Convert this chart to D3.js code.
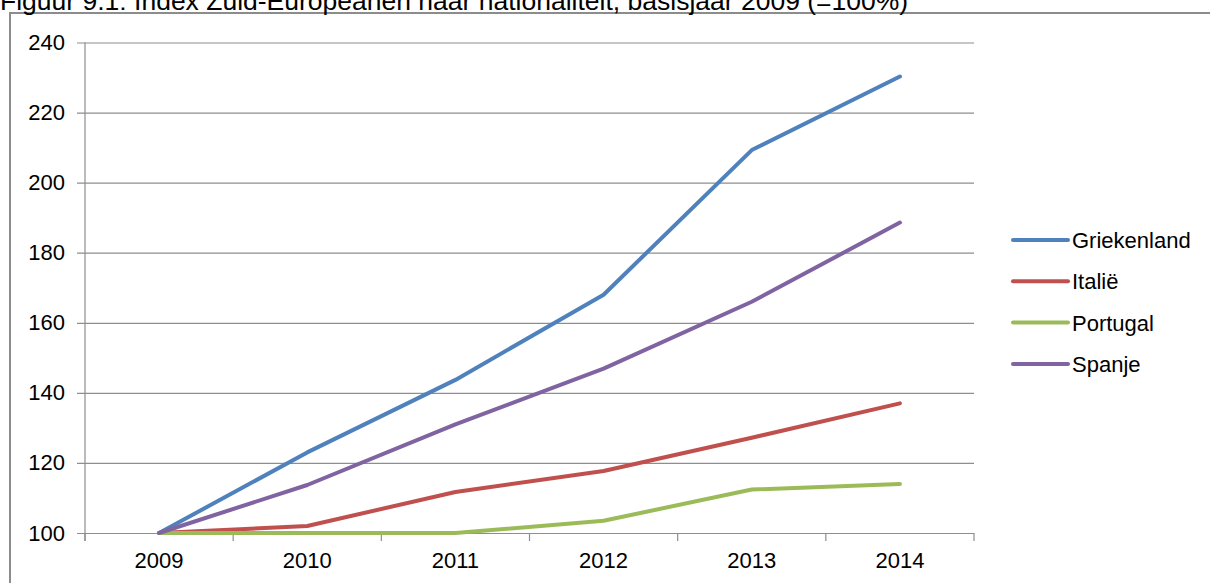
<!DOCTYPE html>
<html>
<head>
<meta charset="utf-8">
<script src="https://cdn.jsdelivr.net/npm/d3@7"></script>
<style>
  html, body { margin: 0; padding: 0; background: #fff; }
  svg { display: block; }
  text { font-family: "Liberation Sans", Arial, sans-serif; fill: #000; }
</style>
</head>
<body>
<svg id="chart" width="1210" height="583"></svg>
<script>
const title = "Figuur 9.1: Index Zuid-Europeanen naar nationaliteit, basisjaar 2009 (=100%)";
const years = ["2009", "2010", "2011", "2012", "2013", "2014"];
const yTicks = [100, 120, 140, 160, 180, 200, 220, 240];
const seriesNames = ["Griekenland", "Italië", "Portugal", "Spanje"];
const griekenland = [100, 123, 143.7, 168, 209.3, 230.3];
const italie = [100, 102, 111.7, 117.7, 127.2, 137];
const portugal = [100, 100, 100, 103.5, 112.4, 114];
const spanje = [100, 113.7, 131, 146.9, 166, 188.6];
const seriesValues = [griekenland, italie, portugal, spanje];
const colors = ["#4F81BD", "#C0504D", "#9BBB59", "#8064A2"];

const svg = d3.select("#chart");
const pLeft = 85, pRight = 974, pTop = 42.5, pBottom = 533;
const fs = 22;

// outer frame
svg.append("rect")
  .attr("x", 10).attr("y", 13).attr("width", 1210).attr("height", 600)
  .attr("fill", "none").attr("stroke", "#8c8c8c").attr("stroke-width", 2);

// title (partially cut at top edge, as in the reference)
svg.append("text").attr("x", 0).attr("y", 10)
  .attr("font-size", 26.5).text(title);

const x = d3.scaleBand().domain(years).range([pLeft, pRight]).padding(0);
const y = d3.scaleLinear().domain([100, 240]).range([pBottom, pTop]);
const cx = d => x(d) + x.bandwidth() / 2;

// gridlines + y labels
const yAxis = d3.axisLeft(y).tickValues(yTicks).tickSize(8).tickPadding(12).tickFormat(d3.format("d"));
const gy = svg.append("g").attr("transform", `translate(${pLeft},0)`).call(yAxis);
gy.select(".domain").remove();
gy.selectAll(".tick line").attr("x2", pRight - pLeft).attr("x1", -8).attr("stroke", "#8e8e8e").attr("stroke-width", 1.2);
gy.selectAll(".tick text").attr("font-size", fs).attr("font-family", "Liberation Sans, Arial, sans-serif").attr("fill", "#000");

// left axis line
svg.append("line").attr("x1", pLeft).attr("x2", pLeft).attr("y1", pTop).attr("y2", pBottom + 8)
  .attr("stroke", "#8e8e8e").attr("stroke-width", 1.2);

// bottom ticks at band boundaries
const boundaries = years.map(d => x(d)).concat([x(years[years.length - 1]) + x.bandwidth()]);
svg.append("g").selectAll("line").data(boundaries).join("line")
  .attr("x1", d => d).attr("x2", d => d).attr("y1", pBottom).attr("y2", pBottom + 8)
  .attr("stroke", "#8e8e8e").attr("stroke-width", 1.2);

// x labels
svg.append("g").selectAll("text").data(years).join("text")
  .attr("x", d => cx(d)).attr("y", 568).attr("text-anchor", "middle")
  .attr("font-size", fs).text(d => d);

// lines
const line = d3.line().x((v, i) => cx(years[i])).y(v => y(v));
svg.append("g").selectAll("path").data(seriesValues).join("path")
  .attr("d", d => line(d)).attr("fill", "none")
  .attr("stroke", (d, i) => colors[i]).attr("stroke-width", 4)
  .attr("stroke-linejoin", "round").attr("stroke-linecap", "round");

// legend
const lg = svg.append("g").selectAll("g").data(seriesNames).join("g")
  .attr("transform", (d, i) => `translate(1013,${240 + i * 41.3})`);
lg.append("line").attr("x1", 0).attr("x2", 55).attr("y1", 0).attr("y2", 0)
  .attr("stroke", (d, i) => colors[i]).attr("stroke-width", 4).attr("stroke-linecap", "round");
lg.append("text").attr("x", 59).attr("y", 8).attr("font-size", fs).text(d => d);
</script>
</body>
</html>
